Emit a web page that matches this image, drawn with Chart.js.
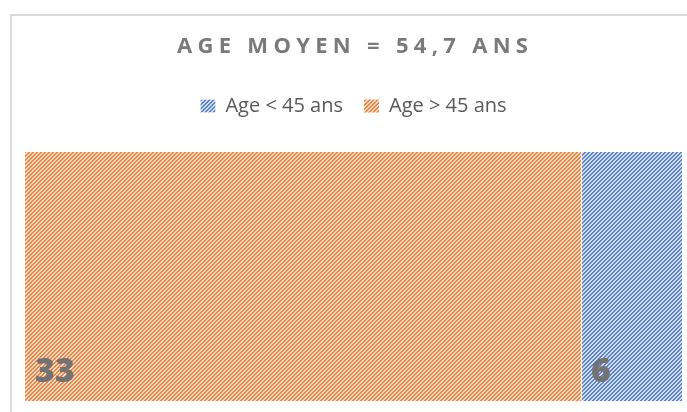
<!DOCTYPE html>
<html>
<head>
<meta charset="utf-8">
<script src="https://cdn.jsdelivr.net/npm/chart.js@4/dist/chart.umd.min.js"></script>
<style>
  html, body { margin: 0; padding: 0; background: #fff; }
  #wrap { width: 687px; height: 412px; position: relative; }
</style>
</head>
<body>
<div id="wrap"><canvas id="ageChart"></canvas></div>
<script>
const categories = ["Age"];
const seriesLabels = ["Age > 45 ans", "Age < 45 ans"];
const olderValues = [33];
const youngerValues = [6];
const titleText = "AGE MOYEN = 54,7 ANS";

const canvas = document.getElementById("ageChart");
const mainCtx = canvas.getContext("2d");

// 4x4 tile, 2px upward diagonal stripes (like the Excel pattern fill)
function makeStripes(fg, bg) {
  const tile = document.createElement("canvas");
  tile.width = 4;
  tile.height = 4;
  const c = tile.getContext("2d");
  c.fillStyle = bg;
  c.fillRect(0, 0, 4, 4);
  c.fillStyle = fg;
  for (let y = 0; y < 4; y++) {
    for (let x = 0; x < 4; x++) {
      if ((x + y) % 4 < 2) c.fillRect(x, y, 1, 1);
    }
  }
  return mainCtx.createPattern(tile, "repeat");
}

const orangeStripes = makeStripes("#EE8440", "#FBDCC6");
const blueStripes = makeStripes("#5A82CC", "#D3DEF2");

const frameAndTitle = {
  id: "frameAndTitle",
  beforeDraw(chart) {
    const ctx = chart.ctx;
    ctx.save();
    ctx.fillStyle = "#fff";
    ctx.fillRect(0, 0, chart.width, chart.height);
    ctx.fillStyle = "#d9d9d9";
    ctx.fillRect(10, 14, chart.width - 10, 2);
    ctx.fillRect(10, 14, 2, chart.height - 14);

    ctx.font = "bold 22px 'Open Sans'";
    ctx.fillStyle = "#7a7a7a";
    ctx.textBaseline = "alphabetic";
    const spacing = 5.3;
    const w = ctx.measureText(titleText).width + spacing * (titleText.length - 1);
    ctx.letterSpacing = spacing + "px";
    ctx.fillText(titleText, 352.5 - w / 2, 53);
    ctx.restore();
  }
};

const barNumbers = {
  id: "barNumbers",
  afterDatasetsDraw(chart) {
    const ctx = chart.ctx;
    ctx.save();
    ctx.font = "800 34px 'Open Sans'";
    ctx.fillStyle = "#737373";
    ctx.textBaseline = "alphabetic";
    chart.data.datasets.forEach((ds, i) => {
      chart.getDatasetMeta(i).data.forEach((bar, j) => {
        const p = bar.getProps(["x", "base", "y", "height"], true);
        ctx.fillText(String(ds.data[j]), Math.min(p.base, p.x) + 10, p.y + p.height / 2 - 19);
      });
    });
    ctx.restore();
  }
};

// extra room between the legend and the bar
const legendGap = {
  id: "legendGap",
  beforeInit(chart) {
    const fit = chart.legend.fit;
    chart.legend.fit = function () {
      fit.call(this);
      this.height += 26;
    };
  }
};

new Chart(mainCtx, {
  type: "bar",
  data: {
    labels: categories,
    datasets: [
      {
        label: seriesLabels[0],
        data: olderValues,
        backgroundColor: orangeStripes,
        borderWidth: 0,
      },
      {
        label: seriesLabels[1],
        data: youngerValues,
        backgroundColor: blueStripes,
        borderColor: "#ffffff",
        borderWidth: { left: 1.5, top: 0, right: 0, bottom: 0 },
        borderSkipped: false,
      },
    ],
  },
  options: {
    indexAxis: "y",
    responsive: true,
    maintainAspectRatio: false,
    animation: false,
    barPercentage: 1,
    categoryPercentage: 1,
    layout: {
      padding: { top: 75, left: 25, right: 5, bottom: 11 },
    },
    scales: {
      x: {
        stacked: true,
        display: false,
        min: 0,
        max: olderValues[0] + youngerValues[0],
      },
      y: {
        stacked: true,
        display: false,
      },
    },
    plugins: {
      tooltip: { enabled: false },
      legend: {
        position: "top",
        reverse: true,
        labels: {
          boxWidth: 15,
          boxHeight: 13,
          padding: 21,
          color: "#595959",
          font: { family: "'Open Sans'", size: 20 },
        },
      },
    },
  },
  plugins: [frameAndTitle, barNumbers, legendGap],
});
</script>
</body>
</html>
